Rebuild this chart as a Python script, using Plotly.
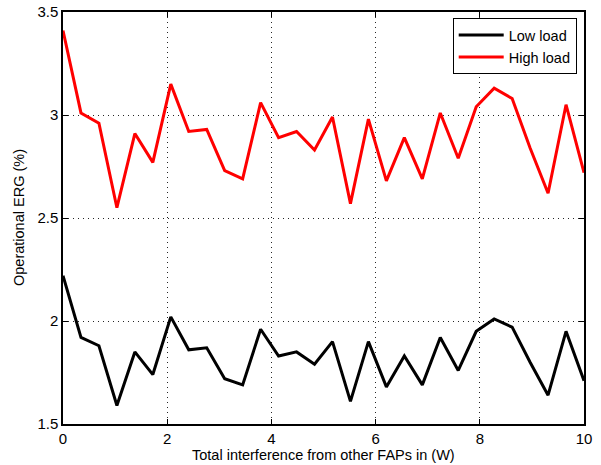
import plotly.graph_objects as go

n_points = 30
x_max = 10.0
x_vals = [i * x_max / (n_points - 1) for i in range(n_points)]

high_load = [3.41, 3.01, 2.96, 2.55, 2.91, 2.77, 3.15, 2.92, 2.93, 2.73,
             2.69, 3.06, 2.89, 2.92, 2.83, 2.99, 2.57, 2.98, 2.68, 2.89,
             2.69, 3.01, 2.79, 3.04, 3.13, 3.08, 2.84, 2.62, 3.05, 2.72]
low_load = [2.22, 1.92, 1.88, 1.59, 1.85, 1.74, 2.02, 1.86, 1.87, 1.72,
            1.69, 1.96, 1.83, 1.85, 1.79, 1.90, 1.61, 1.90, 1.68, 1.83,
            1.69, 1.92, 1.76, 1.95, 2.01, 1.97, 1.80, 1.64, 1.95, 1.71]

x_ticks = [0, 2, 4, 6, 8, 10]
y_ticks = [1.5, 2, 2.5, 3, 3.5]
x_title = "Total interference from other FAPs in (W)"
y_title = "Operational ERG (%)"

FONT = "Liberation Sans, Arial, Helvetica, sans-serif"

fig = go.Figure()
fig.add_trace(go.Scatter(x=x_vals, y=low_load, mode="lines", name="Low load",
                         line=dict(color="black", width=3)))
fig.add_trace(go.Scatter(x=x_vals, y=high_load, mode="lines", name="High load",
                         line=dict(color="#ff0000", width=3)))

axis_common = dict(
    showline=True, linecolor="black", linewidth=1.5, mirror="ticks",
    ticks="inside", ticklen=5, tickcolor="black", tickwidth=1,
    showgrid=True, gridcolor="rgba(0,0,0,0.85)", griddash="1px,4px", gridwidth=1,
    zeroline=False, automargin=False,
    tickfont=dict(family=FONT, size=15, color="black"),
)

fig.update_layout(
    width=601, height=465,
    paper_bgcolor="white", plot_bgcolor="white",
    margin=dict(l=63, r=17, t=12, b=41),
    font=dict(family=FONT, size=15, color="black"),
    xaxis=dict(range=[0, 10], tickvals=x_ticks, **axis_common),
    yaxis=dict(range=[1.5, 3.5], tickvals=y_ticks, **axis_common),
    legend=dict(x=0.986, y=0.985, xanchor="right", yanchor="top",
                bgcolor="white", bordercolor="black", borderwidth=1,
                font=dict(size=14.5), tracegroupgap=0, itemwidth=45),
    showlegend=True,
    annotations=[
        dict(text=x_title, xref="paper", yref="paper", x=0.5, y=0,
             xanchor="center", yanchor="middle", yshift=-31, showarrow=False,
             font=dict(size=14.5)),
        dict(text=y_title, xref="paper", yref="paper", x=0, y=0.5,
             xanchor="center", yanchor="middle", xshift=-44, textangle=-90,
             showarrow=False, font=dict(size=14.5)),
    ],
)

fig.write_html("out.html", config={"displayModeBar": False},
               post_script="document.body.style.margin='0px';document.body.style.overflow='hidden';")
